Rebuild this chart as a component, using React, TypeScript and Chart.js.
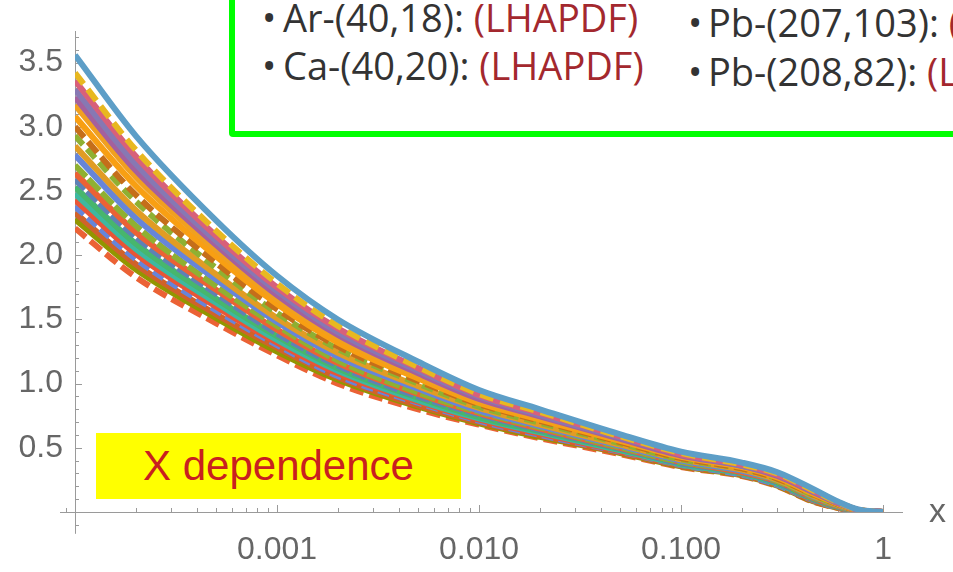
import React, { useEffect, useRef } from "react";
import { Chart, registerables } from "chart.js";

Chart.register(...registerables);

// ---------- data ----------
const X_VALUES = [0.0001, 0.0002, 0.0005, 0.001, 0.002, 0.005, 0.01, 0.02, 0.05, 0.1, 0.2, 0.3, 0.45, 0.6, 0.75, 1];

const CURVE_01 = [3.56, 2.93, 2.27, 1.84, 1.50, 1.17, 0.95, 0.80, 0.605, 0.47, 0.385, 0.31, 0.18, 0.08, 0.02, 0];
const CURVE_02 = [3.42, 2.82, 2.19, 1.78, 1.45, 1.13, 0.92, 0.78, 0.59, 0.46, 0.37, 0.30, 0.17, 0.075, 0.018, 0];
const CURVE_03 = [3.36, 2.77, 2.15, 1.75, 1.43, 1.12, 0.91, 0.77, 0.59, 0.45, 0.37, 0.29, 0.165, 0.073, 0.018, 0];
const CURVE_04 = [3.29, 2.71, 2.11, 1.72, 1.40, 1.10, 0.90, 0.755, 0.58, 0.45, 0.36, 0.29, 0.16, 0.07, 0.017, 0];
const CURVE_05 = [3.23, 2.66, 2.08, 1.69, 1.38, 1.08, 0.88, 0.745, 0.57, 0.44, 0.36, 0.28, 0.156, 0.068, 0.016, 0];
const CURVE_06 = [3.17, 2.61, 2.04, 1.66, 1.36, 1.06, 0.87, 0.735, 0.565, 0.435, 0.355, 0.28, 0.151, 0.066, 0.016, 0];
const CURVE_07 = [3.08, 2.54, 1.99, 1.62, 1.32, 1.04, 0.85, 0.72, 0.555, 0.43, 0.35, 0.27, 0.144, 0.062, 0.015, 0];
const CURVE_08 = [3.00, 2.47, 1.94, 1.58, 1.29, 1.02, 0.84, 0.71, 0.545, 0.42, 0.34, 0.26, 0.139, 0.059, 0.014, 0];
const CURVE_09 = [2.93, 2.42, 1.90, 1.55, 1.27, 1.00, 0.82, 0.695, 0.535, 0.41, 0.34, 0.26, 0.133, 0.057, 0.013, 0];
const CURVE_10 = [2.85, 2.35, 1.85, 1.51, 1.24, 0.98, 0.81, 0.68, 0.525, 0.41, 0.33, 0.25, 0.127, 0.054, 0.012, 0];
const CURVE_11 = [2.78, 2.29, 1.81, 1.48, 1.21, 0.96, 0.79, 0.67, 0.515, 0.40, 0.32, 0.25, 0.122, 0.051, 0.011, 0];
const CURVE_12 = [2.70, 2.23, 1.76, 1.45, 1.18, 0.93, 0.78, 0.66, 0.505, 0.39, 0.32, 0.24, 0.116, 0.048, 0.010, 0];
const CURVE_13 = [2.64, 2.18, 1.73, 1.42, 1.16, 0.92, 0.77, 0.65, 0.50, 0.39, 0.31, 0.24, 0.112, 0.046, 0.010, 0];
const CURVE_14 = [2.59, 2.14, 1.70, 1.39, 1.14, 0.90, 0.76, 0.64, 0.495, 0.38, 0.31, 0.23, 0.108, 0.044, 0.009, 0];
const CURVE_15 = [2.53, 2.09, 1.66, 1.37, 1.12, 0.89, 0.74, 0.63, 0.49, 0.38, 0.305, 0.23, 0.104, 0.042, 0.009, 0];
const CURVE_16 = [2.48, 2.05, 1.63, 1.34, 1.10, 0.87, 0.73, 0.62, 0.48, 0.37, 0.30, 0.22, 0.10, 0.040, 0.008, 0];
const CURVE_17 = [2.43, 2.01, 1.60, 1.32, 1.08, 0.86, 0.72, 0.61, 0.475, 0.37, 0.30, 0.22, 0.096, 0.038, 0.007, 0];
const CURVE_18 = [2.38, 1.97, 1.57, 1.30, 1.06, 0.85, 0.71, 0.60, 0.47, 0.365, 0.29, 0.21, 0.093, 0.036, 0.007, 0];
const CURVE_19 = [2.33, 1.93, 1.54, 1.28, 1.05, 0.83, 0.70, 0.595, 0.465, 0.36, 0.29, 0.21, 0.089, 0.034, 0.006, 0];
const CURVE_20 = [2.28, 1.89, 1.51, 1.25, 1.03, 0.82, 0.69, 0.585, 0.46, 0.355, 0.285, 0.205, 0.085, 0.033, 0.006, 0];
const CURVE_21 = [2.21, 1.83, 1.47, 1.22, 1.00, 0.80, 0.68, 0.575, 0.45, 0.35, 0.28, 0.20, 0.08, 0.030, 0.005, 0];

const SERIES = [
  CURVE_01, CURVE_02, CURVE_03, CURVE_04, CURVE_05, CURVE_06, CURVE_07,
  CURVE_08, CURVE_09, CURVE_10, CURVE_11, CURVE_12, CURVE_13, CURVE_14,
  CURVE_15, CURVE_16, CURVE_17, CURVE_18, CURVE_19, CURVE_20, CURVE_21,
];

const SERIES_COLORS = [
  "#5D9EC7", "#E8B820", "#D8607A", "#8778B3", "#A5609D", "#F0A020", "#F89F13",
  "#C56E1A", "#8FB032", "#E19C24", "#6685D9", "#8FB032", "#EB6235", "#5E81B5",
  "#47B66D", "#3EB8A0", "#E95536", "#6685D9", "#D0622A", "#929600", "#EB6235",
];

const SERIES_DASHES: number[][] = [
  [], [14, 7], [], [], [], [], [],
  [14, 6], [12, 6], [], [], [16, 3], [], [14, 3],
  [], [], [], [12, 5], [], [], [14, 6],
];

const X_TICKS = [0.001, 0.01, 0.1, 1];
const X_TICK_LABELS = ["0.001", "0.010", "0.100", "1"];
const Y_TICKS = [0.5, 1, 1.5, 2, 2.5, 3, 3.5];
const Y_TICK_LABELS = ["0.5", "1.0", "1.5", "2.0", "2.5", "3.0", "3.5"];

const X_MIN = 0.0001;
const X_MAX = 1.24;
const X_AXIS_START = 0.0000843;
const Y_MIN = 0;
const Y_MAX = 3.745;
const Y_AXIS_END = -0.17;

const LEGEND_COL1 = ["Ar-(40,18): ", "Ca-(40,20): "];
const LEGEND_COL2 = ["Pb-(207,103): ", "Pb-(208,82): "];
const LEGEND_SOURCE = "(LHAPDF)";
const BOX_LABEL = "X dependence";
const AXIS_LABEL = "x";

const AXIS_COLOR = "#9a9a9a";
const LABEL_COLOR = "#666666";

const axesPlugin = {
  id: "mmaAxes",
  beforeDatasetsDraw(chart: any) {
    const { ctx, scales } = chart;
    const xs = scales.x;
    const ys = scales.y;
    const x0 = xs.getPixelForValue(X_MIN);
    const y0 = ys.getPixelForValue(0);
    ctx.save();
    ctx.strokeStyle = AXIS_COLOR;
    ctx.lineWidth = 1;
    ctx.beginPath();
    ctx.moveTo(xs.getPixelForValue(X_AXIS_START), y0 + 0.5);
    ctx.lineTo(x0, y0 + 0.5);
    ctx.moveTo(x0 + 0.5, y0);
    ctx.lineTo(x0 + 0.5, ys.getPixelForValue(Y_AXIS_END));
    for (let d = -5; d <= 0; d++) {
      for (let k = 1; k <= 9; k++) {
        const v = k * Math.pow(10, d);
        if (v < X_AXIS_START || v > X_MAX) continue;
        const px = Math.round(xs.getPixelForValue(v)) + 0.5;
        const len = k === 1 ? 7 : 4;
        ctx.moveTo(px, y0);
        ctx.lineTo(px, y0 - len);
      }
    }
    for (let i = -1; i <= 37; i++) {
      const v = i / 10;
      if (v < Y_AXIS_END || v > Y_MAX) continue;
      const py = Math.round(ys.getPixelForValue(v)) + 0.5;
      const len = i % 5 === 0 ? 7 : 4;
      ctx.moveTo(x0, py);
      ctx.lineTo(x0 + len, py);
    }
    ctx.stroke();
    ctx.restore();
  },
};

export default function App() {
  const canvasRef = useRef<HTMLCanvasElement | null>(null);

  useEffect(() => {
    const canvas = canvasRef.current;
    if (!canvas) return;
    const datasets = SERIES.map((s, si) => ({
      label: "curve " + (si + 1),
      data: X_VALUES.map((x, i) => ({ x, y: s[i] })),
      borderColor: SERIES_COLORS[si],
      backgroundColor: SERIES_COLORS[si],
      borderDash: SERIES_DASHES[si],
      borderWidth: 6,
      pointRadius: 0,
      fill: false,
      cubicInterpolationMode: "monotone" as const,
    }));
    const chart = new Chart(canvas, {
      type: "line",
      data: { datasets },
      plugins: [axesPlugin],
      options: {
        responsive: false,
        animation: false,
        devicePixelRatio: 1,
        layout: { padding: { top: 15, right: 51, left: 0, bottom: 0 } },
        plugins: { legend: { display: false }, tooltip: { enabled: false } },
        scales: {
          x: {
            type: "logarithmic",
            min: X_MIN,
            max: X_MAX,
            position: "bottom",
            grid: { display: false, drawTicks: false },
            border: { display: true, color: AXIS_COLOR, width: 1 },
            afterFit: (s: any) => { s.height = 60; },
            afterBuildTicks: (s: any) => { s.ticks = X_TICKS.map((v) => ({ value: v })); },
            ticks: {
              autoSkip: false,
              maxRotation: 0,
              padding: 19,
              color: LABEL_COLOR,
              font: { family: "'Liberation Sans', Arial, sans-serif", size: 32 },
              callback: (v: any) => {
                const idx = X_TICKS.indexOf(Number(v));
                return idx >= 0 ? X_TICK_LABELS[idx] : "";
              },
            },
          },
          y: {
            type: "linear",
            min: Y_MIN,
            max: Y_MAX,
            position: "left",
            grid: { display: false, drawTicks: false },
            border: { display: true, color: AXIS_COLOR, width: 1 },
            afterFit: (s: any) => { s.width = 75; },
            afterBuildTicks: (s: any) => { s.ticks = Y_TICKS.map((v) => ({ value: v })); },
            ticks: {
              autoSkip: false,
              padding: 12,
              color: LABEL_COLOR,
              font: { family: "'Liberation Sans', Arial, sans-serif", size: 32 },
              callback: (v: any) => {
                const idx = Y_TICKS.indexOf(Number(v));
                return idx >= 0 ? Y_TICK_LABELS[idx] : "";
              },
            },
          },
        },
      },
    } as any);
    return () => chart.destroy();
  }, []);

  const legendFont: React.CSSProperties = {
    position: "absolute",
    fontFamily: "'Open Sans', 'Noto Sans', sans-serif",
    fontSize: 38,
    lineHeight: "38px",
    color: "#333333",
    whiteSpace: "nowrap",
  };
  const red: React.CSSProperties = { color: "#A3282E" };

  return (
    <div style={{ position: "relative", width: 953, height: 572, overflow: "hidden", background: "#ffffff" }}>
      <style>{"body{margin:0;}"}</style>
      <canvas ref={canvasRef} width={953} height={572} style={{ position: "absolute", left: 0, top: 0, width: 953, height: 572 }} />
      <div
        style={{
          position: "absolute",
          left: 229,
          top: -20,
          width: 800,
          height: 145,
          border: "6px solid #00FF00",
          borderRadius: 4,
          background: "#ffffff",
          boxSizing: "content-box",
        }}
      />
      <span style={{ ...legendFont, left: 262, top: -2 }}>•</span>
      <span style={{ ...legendFont, left: 283, top: -2 }}>{LEGEND_COL1[0]}<span style={red}>{LEGEND_SOURCE}</span></span>
      <span style={{ ...legendFont, left: 262, top: 46 }}>•</span>
      <span style={{ ...legendFont, left: 283, top: 46 }}>{LEGEND_COL1[1]}<span style={red}>{LEGEND_SOURCE}</span></span>
      <span style={{ ...legendFont, left: 688, top: 3 }}>•</span>
      <span style={{ ...legendFont, left: 708, top: 3 }}>{LEGEND_COL2[0]}<span style={red}>{LEGEND_SOURCE}</span></span>
      <span style={{ ...legendFont, left: 688, top: 52 }}>•</span>
      <span style={{ ...legendFont, left: 708, top: 52 }}>{LEGEND_COL2[1]}<span style={red}>{LEGEND_SOURCE}</span></span>
      <div
        style={{
          position: "absolute",
          left: 96,
          top: 433,
          width: 365,
          height: 66,
          background: "#FFFF00",
          color: "#C8201F",
          fontFamily: "'Liberation Sans', Arial, sans-serif",
          fontSize: 42,
          lineHeight: "66px",
          textAlign: "center",
          whiteSpace: "nowrap",
        }}
      >
        {BOX_LABEL}
      </div>
      <div
        style={{
          position: "absolute",
          left: 929,
          top: 490,
          fontFamily: "'Liberation Sans', Arial, sans-serif",
          fontSize: 34,
          lineHeight: "40px",
          color: LABEL_COLOR,
        }}
      >
        {AXIS_LABEL}
      </div>
    </div>
  );
}
